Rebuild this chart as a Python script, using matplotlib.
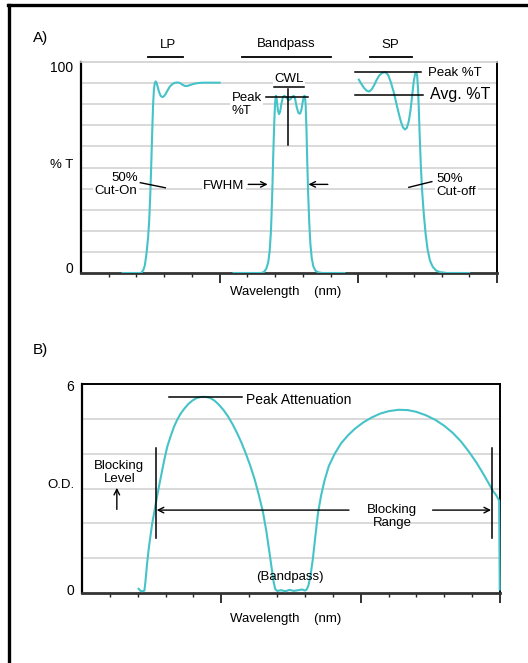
import matplotlib
matplotlib.use("Agg")
import matplotlib.pyplot as plt
from matplotlib.lines import Line2D

plt.rcParams['font.family'] = ['Liberation Sans', 'DejaVu Sans']

CYAN = '#45c3c8'
GRID = '#cfcfcf'

# ---- Panel A data (x in arbitrary wavelength units 0..15, y in %T)
lp_x = [1.5, 2.15, 2.2, 2.25, 2.3, 2.36, 2.42, 2.46, 2.5, 2.53, 2.57, 2.6, 2.63, 2.66,
        2.69, 2.72, 2.76, 2.81, 2.87, 2.93, 2.98, 3.04, 3.12, 3.2, 3.3, 3.4, 3.48,
        3.56, 3.65, 3.74, 3.82, 3.92, 4.05, 4.2, 4.4, 4.7, 5.0]
lp_y = [0, 0, 0.5, 1.5, 3.5, 9, 17, 25, 38, 50, 68, 80, 87, 90,
        90.8, 90.3, 88.5, 86, 84, 83.4, 83.6, 84.6, 86.5, 88.3, 89.6, 90.2, 90.3,
        90.1, 89.3, 88.7, 88.6, 89, 89.6, 90, 90.2, 90.2, 90.2]

bp_x = [5.5, 6.5, 6.6, 6.68, 6.75, 6.8, 6.85, 6.89, 6.93, 6.97, 7.0, 7.03, 7.06, 7.1,
        7.14, 7.18, 7.23, 7.28, 7.33, 7.38, 7.44, 7.5, 7.56, 7.62, 7.67, 7.72, 7.78,
        7.84, 7.9, 7.95, 8.0, 8.04, 8.07, 8.1, 8.13, 8.16, 8.19, 8.23, 8.27, 8.32,
        8.38, 8.46, 8.56, 8.7, 9.5]
bp_y = [0, 0, 0.5, 2, 5, 10, 20, 35, 55, 72, 81, 84, 82, 77,
        75.3, 76.5, 80.5, 83.3, 84, 83.5, 82.5, 82, 82.5, 83.5, 84, 82.5, 78.5,
        75.8, 75.5, 77.5, 81.5, 83.8, 84, 80, 68, 52, 38, 24, 14, 7,
        3, 1, 0.3, 0, 0]

sp_x = [10.02, 10.1, 10.2, 10.3, 10.39, 10.48, 10.57, 10.66, 10.75, 10.85, 10.97,
        11.07, 11.17, 11.27, 11.36, 11.45, 11.54, 11.61, 11.68, 11.75, 11.82, 11.88,
        11.94, 12.0, 12.05, 12.09, 12.12, 12.15, 12.18, 12.21, 12.25, 12.3, 12.36,
        12.43, 12.5, 12.58, 12.68, 12.8, 12.95, 13.2, 14.0]
sp_y = [91.6, 89.8, 87.8, 86.4, 86, 87, 89, 91.5, 93.5, 94.8, 95.2,
        94, 90.5, 86, 81, 76, 71.5, 69, 68, 68.8, 72, 77,
        84, 91, 94.5, 95.2, 93.5, 88, 78, 66, 52, 39, 28,
        18, 11, 6, 3, 1.2, 0.4, 0, 0]

# ---- Panel B data (O.D.)
od_x = [2.03, 2.1, 2.17, 2.24, 2.28, 2.33, 2.39, 2.45, 2.52, 2.6, 2.67, 2.76, 2.86,
        2.96, 3.06, 3.18, 3.3, 3.42, 3.54, 3.68, 3.82, 3.97, 4.12, 4.28, 4.44, 4.6,
        4.76, 4.92, 5.08, 5.24, 5.4, 5.56, 5.72, 5.88, 6.04, 6.2, 6.35, 6.5, 6.62,
        6.72, 6.8, 6.87, 6.93, 7.0, 7.15, 7.3, 7.45, 7.6, 7.75, 7.9, 8.0, 8.06, 8.12,
        8.2, 8.28, 8.37, 8.47, 8.58, 8.71, 8.86, 9.07, 9.3, 9.55, 9.8, 10.1, 10.4,
        10.7, 11.0, 11.36, 11.7, 12.0, 12.35, 12.68, 13.0, 13.3, 13.6, 13.89, 14.15,
        14.4, 14.6, 14.73, 14.87, 14.97, 14.99]
od_y = [0.12, 0.06, 0.05, 0.07, 0.35, 0.8, 1.24, 1.6, 2.0, 2.35, 2.67, 3.05, 3.45,
        3.85, 4.2, 4.5, 4.77, 4.98, 5.15, 5.3, 5.43, 5.53, 5.6, 5.63, 5.63, 5.6,
        5.52, 5.4, 5.25, 5.07, 4.85, 4.6, 4.32, 4.0, 3.65, 3.25, 2.8, 2.3, 1.75,
        1.2, 0.75, 0.35, 0.12, 0.06, 0.08, 0.05, 0.09, 0.06, 0.08, 0.1, 0.07, 0.1, 0.2,
        0.5, 0.95, 1.6, 2.3, 2.8, 3.25, 3.65, 4.0, 4.3, 4.53, 4.72, 4.9, 5.04,
        5.15, 5.22, 5.26, 5.25, 5.2, 5.1, 4.97, 4.8, 4.6, 4.35, 4.05, 3.75,
        3.42, 3.14, 2.95, 2.8, 2.65, 0.1]

A_yticks = [0, 100]
B_yticks = [0, 6]

W, H = 528, 663
fig = plt.figure(figsize=(W / 100, H / 100), dpi=100)


def fx(px):
    return px / W


def fy(py):
    return 1 - py / H


# outer frame (top + left)
fig.add_artist(Line2D([fx(8), 1.0], [fy(5), fy(5)], color='black', lw=2.4))
fig.add_artist(Line2D([fx(9), fx(9)], [fy(5), 0], color='black', lw=2.4))

FS = 9.5
LS = 1.12


def style_axes(ax, ymax, top_black):
    ax.set_xlim(0, 15)
    ax.set_ylim(0, ymax)
    ax.set_xticks([5, 10, 15])
    ax.set_xticks([i for i in range(1, 15) if i not in (5, 10)], minor=True)
    ax.tick_params(axis='x', which='major', length=7, width=1.3, direction='out',
                   labelbottom=False, color='#222222')
    ax.tick_params(axis='x', which='minor', length=3, width=1, direction='out',
                   color='#222222')
    ax.tick_params(axis='y', which='both', length=0, labelleft=False)
    ax.spines['left'].set_linewidth(1.6)
    ax.spines['bottom'].set_linewidth(2.0)
    ax.spines['bottom'].set_color('#333333')
    ax.spines['right'].set_linewidth(1.4)
    if top_black:
        ax.spines['top'].set_linewidth(1.4)
    else:
        ax.spines['top'].set_color(GRID)
        ax.spines['top'].set_linewidth(1.2)


def arrow(ax, start, end):
    ax.annotate('', xy=end, xytext=start,
                arrowprops=dict(arrowstyle='->', color='black', lw=1.0,
                                shrinkA=0, shrinkB=0), zorder=5)


# ================= Panel A =================
axA = fig.add_axes([fx(81), fy(273), fx(497) - fx(81), fy(62) - fy(273)])
style_axes(axA, 100, False)
for g in range(10, 100, 10):
    axA.axhline(g, color=GRID, lw=1.1, zorder=0)
axA.plot(lp_x, lp_y, color=CYAN, lw=1.5, zorder=3)
axA.plot(bp_x, bp_y, color=CYAN, lw=1.5, zorder=3)
axA.plot(sp_x, sp_y, color=CYAN, lw=1.5, zorder=3)

kwA = dict(clip_on=False, zorder=5)
wb = dict(facecolor='white', edgecolor='none', pad=1.0)

# titles with underlines
axA.text(3.15, 108.0, 'LP', ha='center', va='center', fontsize=FS, **kwA)
axA.plot([2.42, 3.68], [102.5, 102.5], color='black', lw=1.3, **kwA)
axA.text(7.39, 108.5, 'Bandpass', ha='center', va='center', fontsize=FS, **kwA)
axA.plot([5.82, 9.02], [102.5, 102.5], color='black', lw=1.3, **kwA)
axA.text(11.16, 108.0, 'SP', ha='center', va='center', fontsize=FS, **kwA)
axA.plot([10.43, 11.92], [102.5, 102.5], color='black', lw=1.3, **kwA)

# CWL
axA.text(7.49, 92.0, 'CWL', ha='center', va='center', fontsize=FS, bbox=wb, **kwA)
axA.plot([6.97, 8.03], [88.2, 88.2], color='black', lw=1.1, **kwA)
axA.plot([7.47, 7.47], [87.2, 60.7], color='black', lw=1.1, **kwA)
# Peak %T (bandpass)
axA.plot([6.67, 8.2], [83.4, 83.4], color='black', lw=1.1, **kwA)
axA.text(5.43, 80.0, 'Peak\n%T', ha='left', va='center', fontsize=FS,
         linespacing=LS, bbox=wb, **kwA)
# SP peak / avg
axA.plot([9.87, 12.26], [95.3, 95.3], color='black', lw=1.1, **kwA)
axA.text(12.52, 94.6, 'Peak %T', ha='left', va='center', fontsize=FS,
         bbox=wb, **kwA)
axA.plot([9.89, 12.34], [84.5, 84.5], color='black', lw=1.1, **kwA)
axA.text(12.58, 84.7, 'Avg. %T', ha='left', va='center', fontsize=11.5,
         bbox=wb, **kwA)

# 50% Cut-On
axA.text(2.04, 42.0, '50%\nCut-On', ha='right', va='center', fontsize=FS,
         multialignment='right', linespacing=LS, bbox=wb, **kwA)
axA.plot([2.14, 3.04], [42.8, 40.4], color='black', lw=1.0, **kwA)
# FWHM
axA.text(5.9, 41.0, 'FWHM', ha='right', va='center', fontsize=FS, bbox=wb, **kwA)
arrow(axA, (6.03, 42.0), (6.73, 42.0))
arrow(axA, (8.9, 42.0), (8.2, 42.0))
# 50% Cut-off
axA.text(12.83, 41.3, '50%\nCut-off', ha='left', va='center', fontsize=FS,
         linespacing=LS, bbox=wb, **kwA)
axA.plot([11.82, 12.65], [40.6, 43.3], color='black', lw=1.0, **kwA)

# y labels
axA.text(-0.27, A_yticks[1] - 2.8, '100', ha='right', va='center', fontsize=10, **kwA)
axA.text(-0.27, A_yticks[0] + 2.0, '0', ha='right', va='center', fontsize=10, **kwA)
axA.text(-0.27, 51, '% T', ha='right', va='center', fontsize=FS, **kwA)

fig.text(fx(286), fy(292), 'Wavelength    (nm)', ha='center', va='center', fontsize=FS)
fig.text(fx(33), fy(38), 'A)', ha='left', va='center', fontsize=11)

# ================= Panel B =================
axB = fig.add_axes([fx(82), fy(593), fx(500) - fx(82), fy(384) - fy(593)])
style_axes(axB, 6, True)
for g in range(1, 6):
    axB.axhline(g, color=GRID, lw=1.1, zorder=0)
axB.plot(od_x, od_y, color=CYAN, lw=1.5, zorder=3, clip_on=False)

axB.plot([3.13, 5.74], [5.64, 5.64], color='black', lw=1.1, **kwA)
axB.text(5.9, 5.55, 'Peak Attenuation', ha='left', va='center', fontsize=10, **kwA)
axB.text(7.46, 0.47, '(Bandpass)', ha='center', va='center', fontsize=FS, **kwA)
axB.text(1.34, 3.47, 'Blocking\nLevel', ha='center', va='center', fontsize=FS,
         linespacing=LS, bbox=wb, **kwA)
arrow(axB, (1.25, 2.4), (1.25, 3.02))
axB.plot([2.66, 2.66], [4.17, 1.57], color='black', lw=1.1, **kwA)
axB.plot([14.7, 14.7], [4.17, 1.57], color='black', lw=1.1, **kwA)
arrow(axB, (9.58, 2.38), (2.68, 2.38))
arrow(axB, (12.58, 2.38), (14.68, 2.38))
axB.text(11.12, 2.2, 'Blocking\nRange', ha='center', va='center', fontsize=FS,
         linespacing=LS, **kwA)

axB.text(-0.28, B_yticks[1] - 0.1, '6', ha='right', va='center', fontsize=10, **kwA)
axB.text(-0.28, B_yticks[0] + 0.05, '0', ha='right', va='center', fontsize=10, **kwA)
axB.text(-0.28, 3.1, 'O.D.', ha='right', va='center', fontsize=FS, **kwA)

fig.text(fx(286), fy(619), 'Wavelength    (nm)', ha='center', va='center', fontsize=FS)
fig.text(fx(33), fy(350), 'B)', ha='left', va='center', fontsize=11)

fig.savefig('out.png', dpi=100)
